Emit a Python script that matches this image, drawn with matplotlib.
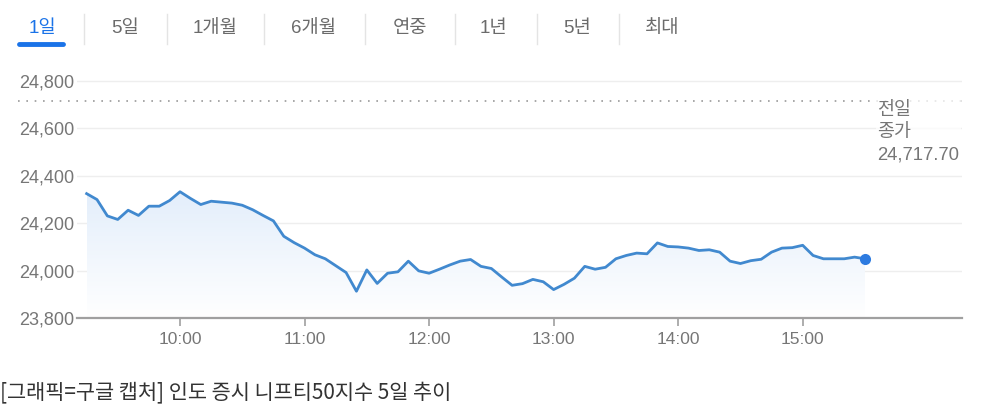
import numpy as np
import matplotlib
matplotlib.use("Agg")
import matplotlib.pyplot as plt
from matplotlib.transforms import blended_transform_factory

# Nifty 50, 1-day view, 5 minute samples from 09:15 to 15:30
nifty = [24325, 24300, 24231, 24216, 24255, 24233, 24272, 24272, 24296, 24333,
         24305, 24279, 24293, 24289, 24285, 24276, 24257, 24233, 24210, 24145,
         24118, 24095, 24067, 24050, 24021, 23992, 23913, 24003, 23946, 23989,
         23995, 24040, 23999, 23989, 24006, 24024, 24040, 24047, 24018, 24009,
         23973, 23938, 23945, 23963, 23953, 23920, 23942, 23968, 24018, 24006,
         24014, 24050, 24064, 24074, 24071, 24117, 24102, 24100, 24095, 24085,
         24088, 24078, 24040, 24030, 24042, 24048, 24078, 24095, 24097, 24107,
         24064, 24050, 24050, 24050, 24057, 24050]
start_minute = 9 * 60 + 15
minutes = start_minute + 5 * np.arange(len(nifty))

prev_close = 24717.70
hour_labels = ["10:00", "11:00", "12:00", "13:00", "14:00", "15:00"]
y_ticks = [23800, 24000, 24200, 24400, 24600, 24800]
tabs = ["1일", "5일", "1개월", "6개월", "연중", "1년", "5년", "최대"]
caption = "[그래픽=구글 캡처] 인도 증시 니프티50지수 5일 추이"

latin_kr = ["Liberation Sans", "Noto Sans CJK KR"]
gray = "#767676"
blue_line = "#4189cf"

fig = plt.figure(figsize=(9.88, 4.13), dpi=100)
ax = fig.add_axes([0.078, 0.23, 0.896, 0.60])
ax.set_xlim(550.4, 976.9)
ax.set_ylim(23800, 24846)

# light blue fill under the line, fading downwards
fill = ax.fill_between(minutes, nifty, 23800, color="none", lw=0)
grad = np.linspace(0, 1, 256).reshape(-1, 1)
img = ax.imshow(grad, cmap=matplotlib.colors.LinearSegmentedColormap.from_list(
    "fade", ["#ffffff", "#e3eefb"]), aspect="auto", origin="lower",
    extent=[minutes[0], minutes[-1], 23800, max(nifty)], zorder=1)
img.set_clip_path(fill.get_paths()[0], transform=ax.transData)

ax.plot(minutes, nifty, color=blue_line, lw=2.0, solid_joinstyle="round", zorder=3)
ax.plot(minutes[-1], nifty[-1], "o", color="#2d7be0", ms=8, mec="none", zorder=4)

# previous close dotted line (runs past the axis on the left)
trans = blended_transform_factory(ax.transAxes, ax.transData)
ax.plot([-0.067, 1.0], [prev_close, prev_close], transform=trans,
        color="#9a9a9a", ls=(0, (1, 4)), lw=1.2, clip_on=False)
ax.text(0.904, prev_close - 5, "전일\n종가\n24,717.70", transform=trans,
        ha="left", va="top", fontsize=13.3, color=gray, linespacing=1.42,
        family=latin_kr,
        bbox=dict(facecolor="white", edgecolor="none", alpha=0.75, pad=1))

hour_ticks = [int(h[:2]) * 60 for h in hour_labels]
ax.set_xticks(hour_ticks)
ax.set_xticklabels(hour_labels, family=latin_kr, fontsize=12.5, color=gray)
ax.set_yticks(y_ticks)
ax.set_yticklabels([f"{v:,}" for v in y_ticks], family=latin_kr,
                   fontsize=13, color=gray)

ax.grid(axis="y", color="#eeeeee", lw=1)
ax.set_axisbelow(True)
for side in ["top", "right", "left"]:
    ax.spines[side].set_visible(False)
ax.spines["bottom"].set_color("#a0a0a0")
ax.spines["bottom"].set_linewidth(1.6)
ax.tick_params(axis="x", direction="out", length=6, width=1.2,
               color="#a0a0a0", pad=4)
ax.tick_params(axis="y", length=0, pad=2)

# range tabs at the top
tab_x = [42, 125, 215, 313, 410, 493, 577, 662]
sep_x = [84, 167, 264, 365, 455, 537, 619]
for x, label in zip(tab_x, tabs):
    fig.text(x / 988, 1 - 29 / 413, label, ha="center", va="center",
             fontsize=13.5, family=latin_kr,
             color="#1a73e8" if label == "1일" else "#6b6b6b")
for x in sep_x:
    fig.add_artist(plt.Line2D([x / 988, x / 988], [1 - 14 / 413, 1 - 44 / 413],
                              color="#e4e4e4", lw=1))
fig.add_artist(plt.Line2D([19 / 988, 63 / 988], [1 - 44 / 413, 1 - 44 / 413],
                          color="#1a73e8", lw=3.5, solid_capstyle="round"))

fig.text(0.0, 1 - 392 / 413, caption, ha="left", va="center",
         fontsize=15, color="#333333", family=["Noto Sans CJK KR"])

fig.savefig("out.png", dpi=100)
